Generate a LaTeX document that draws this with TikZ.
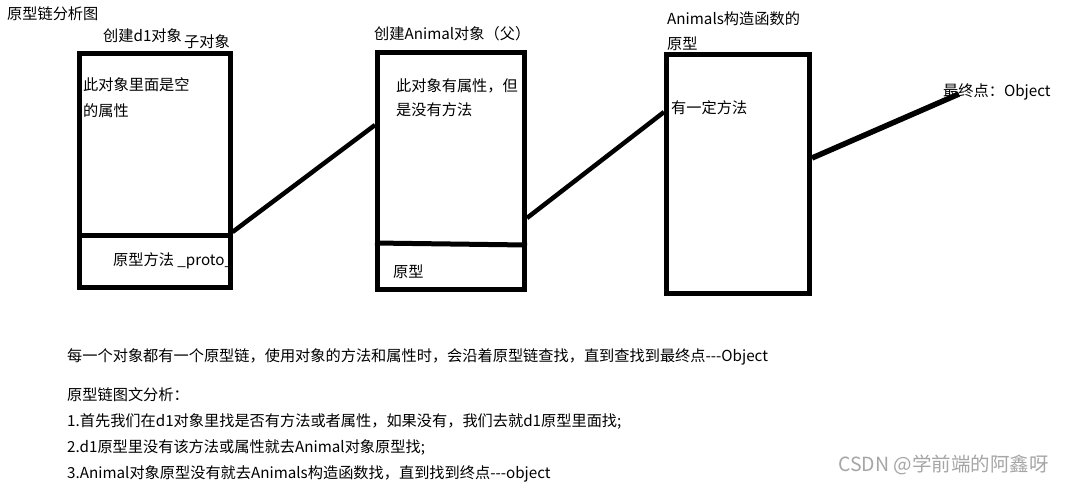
\documentclass[tikz,border=0pt]{standalone}
\usepackage{fontspec}
\setmainfont{Noto Sans CJK SC}
\begin{document}
\begin{tikzpicture}[x=1pt,y=-1pt,
  objbox/.style={draw=black,line width=5pt,minimum width=#1,inner sep=0pt},
  link/.style={draw=black,line width=4.5pt},
  lbl/.style={anchor=base west,inner sep=0pt,text=black,font=\fontsize{15.2}{18}\selectfont},
  wmark/.style={anchor=base west,inner sep=0pt,text=black!35,font=\fontsize{19.5}{22}\selectfont}]
\useasboundingbox[fill=white] (0,0) rectangle (1065,483);
% boxes
\node[objbox=150.5pt,minimum height=234pt] (b1) at (154.75,170.5) {};
\node[objbox=147pt,minimum height=237pt] (b2) at (451,171) {};
\node[objbox=143pt,minimum height=239pt] (b3) at (738,174) {};
% dividers
\draw[line width=5pt] (b1.west |- 0,235.5) -- (b1.east |- 0,235.5);
\draw[line width=5pt] (b2.west |- 0,243) -- (b2.east |- 0,245);
% connectors
\coordinate (c1a) at (b1.east |- 0,232);
\coordinate (c1b) at (b2.west |- 0,125);
\coordinate (c2a) at (b2.east |- 0,218);
\coordinate (c2b) at (b3.west |- 0,112);
\coordinate (c3a) at (b3.east |- 0,158);
\node[lbl] (end) at (943,96) {最终点：Object};
\coordinate (c3b) at (959,94);
\draw[link] (c1a) -- (c1b);
\draw[link] (c2a) -- (c2b);
\draw[link,line width=5.5pt] (c3a) -- (c3b);
% labels
\node[lbl] (title) at (7,19) {原型链分析图};
\node[lbl] (t1) at (103,41) {创建d1对象};
\node[lbl] (t1b) at (184,47) {子对象};
\node[lbl] (t1c) at (83,90) {此对象里面是空};
\node[lbl] (t1d) at (83,116) {的属性};
\node[lbl] (t1e) at (113,265) {原型方法 \_proto\_};
\node[lbl] (t2) at (374,39) {创建Animal对象（父）};
\node[lbl] (t2c) at (396,91) {此对象有属性，但};
\node[lbl] (t2d) at (396,115) {是没有方法};
\node[lbl] (t2e) at (393,277) {原型};
\node[lbl] (t3) at (667,24) {Animals构造函数的};
\node[lbl] (t3b) at (667,49) {原型};
\node[lbl] (t3c) at (671,113) {有一定方法};
% bottom text
\node[lbl] (s0) at (67,361) {每一个对象都有一个原型链，使用对象的方法和属性时，会沿着原型链查找，直到查找到最终点-{}-{}-Object};
\node[lbl] (s1) at (67,400) {原型链图文分析：};
\node[lbl] (s2) at (67,426) {1.首先我们在d1对象里找是否有方法或者属性，如果没有，我们去就d1原型里面找;};
\node[lbl] (s3) at (67,452) {2.d1原型里没有该方法或属性就去Animal对象原型找;};
\node[lbl] (s4) at (67,478) {3.Animal对象原型没有就去Animals构造函数找，直到找到终点-{}-{}-object};
\node[wmark] (wm) at (838,471) {CSDN @学前端的阿鑫呀};
\end{tikzpicture}
\end{document}
